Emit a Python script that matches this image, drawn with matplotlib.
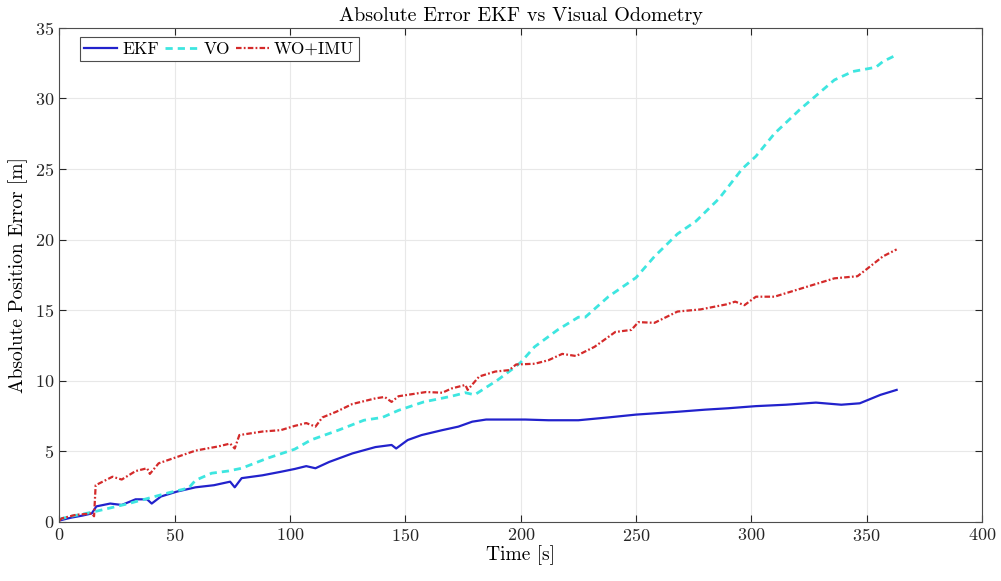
import matplotlib
matplotlib.use('Agg')
import matplotlib.pyplot as plt

# EKF 误差
t_ekf = [0, 5, 10, 14, 16, 22, 27, 33, 38, 40, 44, 51, 59, 67, 74, 76, 79, 88, 96, 102,
         107, 111, 117, 127, 137, 144, 146, 151, 157, 166, 173, 179, 185, 195, 202, 212,
         225, 238, 250, 268, 280, 290, 302, 315, 328, 339, 347, 356, 363]
e_ekf = [0.1, 0.3, 0.45, 0.6, 1.1, 1.3, 1.2, 1.6, 1.6, 1.3, 1.8, 2.15, 2.45, 2.6, 2.85, 2.45,
         3.1, 3.3, 3.55, 3.75, 3.95, 3.8, 4.25, 4.85, 5.3, 5.45, 5.2, 5.8, 6.15, 6.5, 6.75,
         7.1, 7.25, 7.25, 7.25, 7.2, 7.2, 7.4, 7.6, 7.8, 7.95, 8.05, 8.2, 8.3, 8.45, 8.3,
         8.4, 9.0, 9.35]

# VO 误差
t_vo = [0, 5, 10, 15, 21, 30, 38, 47, 56, 59, 66, 73, 79, 90, 102, 109, 121, 132, 140, 147,
        158, 170, 176, 180, 190, 197, 200, 206, 216, 225, 228, 238, 250, 258, 268, 276, 286,
        296, 302, 310, 321, 336, 344, 354, 357, 362]
e_vo = [0.2, 0.4, 0.55, 0.72, 0.95, 1.3, 1.65, 2.05, 2.4, 2.95, 3.45, 3.6, 3.8, 4.5, 5.15,
        5.8, 6.5, 7.2, 7.4, 7.9, 8.5, 8.9, 9.15, 9.0, 10.05, 10.9, 11.3, 12.4, 13.6, 14.5,
        14.5, 15.95, 17.3, 18.8, 20.4, 21.3, 22.9, 25.0, 25.9, 27.5, 29.2, 31.3, 31.9, 32.2,
        32.6, 33.0]

# WO+IMU 误差
t_wo = [0, 1, 7, 14, 15, 15.7, 23, 27, 33, 38, 39.2, 43, 51, 59, 69, 74, 76, 78, 88, 96,
        102, 107, 111, 114, 120, 127, 137, 141, 144, 147, 159, 166, 170, 176, 177, 182, 189,
        195, 198, 206, 212, 218, 224, 232, 241, 248, 251, 258, 268, 278, 289, 293, 297, 302,
        310, 321, 336, 346, 350, 357, 363]
e_wo = [0.1, 0.25, 0.5, 0.6, 0.4, 2.6, 3.2, 3.0, 3.6, 3.8, 3.4, 4.15, 4.6, 5.05, 5.35, 5.55,
        5.2, 6.15, 6.4, 6.5, 6.8, 7.0, 6.75, 7.4, 7.8, 8.35, 8.75, 8.85, 8.5, 8.9, 9.2, 9.15,
        9.45, 9.7, 9.35, 10.3, 10.65, 10.75, 11.15, 11.2, 11.45, 11.9, 11.75, 12.4, 13.45,
        13.6, 14.15, 14.1, 14.9, 15.05, 15.4, 15.6, 15.35, 15.95, 15.95, 16.5, 17.25, 17.4,
        17.9, 18.8, 19.3]

plt.rcParams['font.family'] = ['cmr10', 'DejaVu Serif']
plt.rcParams['axes.formatter.use_mathtext'] = True

fig = plt.figure(figsize=(10.01, 5.81), dpi=100)
ax = fig.add_axes([0.0594, 0.1017, 0.9216, 0.8506])

ax.plot(t_ekf, e_ekf, color='#2222cc', lw=1.6, label='EKF')
ax.plot(t_vo, e_vo, color='#3ee6e0', lw=2.0, ls=(0, (2.6, 1.8)), label='VO')
ax.plot(t_wo, e_wo, color='#d42a2a', lw=1.6, ls=(0, (2.5, 1.0, 0.8, 1.0)), label='WO+IMU')

ax.set_xlim(0, 400)
ax.set_ylim(0, 35)
ax.set_xticks(range(0, 401, 50))
ax.set_yticks(range(0, 36, 5))
ax.grid(True, color='#e8e8e8', lw=0.8)
ax.set_axisbelow(True)
for s in ax.spines.values():
    s.set_color('#4d4d4d')
    s.set_linewidth(0.8)
ax.tick_params(axis='both', which='major', direction='in', top=True, right=True,
               labelsize=13, colors='#262626', length=5)

ax.set_title('Absolute Error EKF vs Visual Odometry', fontsize=14.5, pad=5)
ax.set_xlabel('Time [s]', fontsize=14, labelpad=1)
ax.set_ylabel('Absolute Position Error [m]', fontsize=14, labelpad=5)

leg = ax.legend(loc='upper left', ncol=3, fontsize=12.5, handlelength=1.9,
                columnspacing=0.35, handletextpad=0.3, borderpad=0.25,
                borderaxespad=0, fancybox=False, framealpha=1,
                bbox_to_anchor=(0.022, 0.981))
leg.get_frame().set_edgecolor('#4d4d4d')
leg.get_frame().set_linewidth(0.8)

plt.savefig('out.png', dpi=100)
